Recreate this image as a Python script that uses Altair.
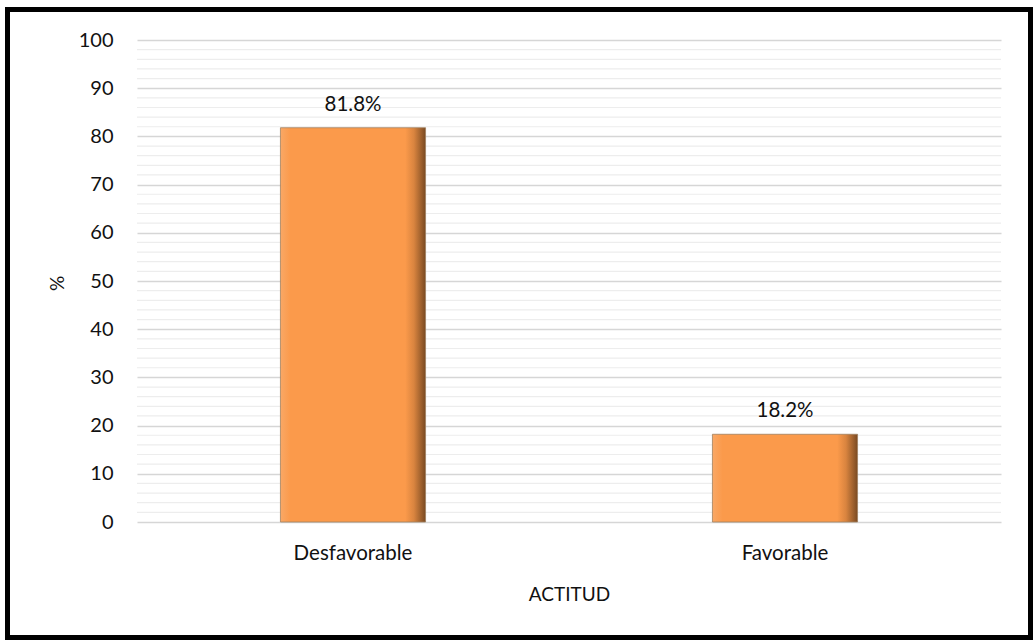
import altair as alt
import pandas as pd

categories = ["Desfavorable", "Favorable"]
values = [81.8, 18.2]
major_ticks = [0, 10, 20, 30, 40, 50, 60, 70, 80, 90, 100]
minor_ticks = [2, 4, 6, 8, 12, 14, 16, 18, 22, 24, 26, 28, 32, 34, 36, 38,
               42, 44, 46, 48, 52, 54, 56, 58, 62, 64, 66, 68, 72, 74, 76, 78,
               82, 84, 86, 88, 92, 94, 96, 98]

FONT = "Lato"
df = pd.DataFrame({"ACTITUD": categories, "pct": values})
minor_df = pd.DataFrame({"pct": minor_ticks})
frame_df = pd.DataFrame({"f": [0]})

x_enc = alt.X("ACTITUD:N", sort=categories,
              scale=alt.Scale(paddingInner=0.664, paddingOuter=0.332),
              axis=alt.Axis(title="ACTITUD", labelAngle=0, labelFontSize=20.5, labelFont=FONT,
                            labelColor="#111111", labelPadding=21, domain=False, ticks=False,
                            titleFont=FONT, titleFontSize=19, titleFontWeight="normal",
                            titleColor="#111111", titleY=72, titleBaseline="middle"))
y_scale = alt.Scale(domain=[0, 100], nice=False)
y_axis = alt.Axis(title="%", values=major_ticks, labelFontSize=20, labelFont=FONT,
                  labelColor="#111111", labelPadding=24, domain=False, ticks=False,
                  gridColor="#d6d6d6", gridWidth=1.3,
                  titleFont=FONT, titleFontSize=19, titleFontWeight="normal",
                  titleColor="#111111", titleX=-80, titleY=243,
                  titleAlign="center", titleBaseline="middle")

minor = alt.Chart(minor_df).mark_rule(color="#ededed", strokeWidth=1.2).encode(
    y=alt.Y("pct:Q", scale=y_scale, axis=y_axis)
)

bars = alt.Chart(df).mark_bar(
    color=alt.Gradient(
        gradient="linear", x1=0, x2=1, y1=0, y2=0,
        stops=[alt.GradientStop(color="#f9a866", offset=0),
               alt.GradientStop(color="#fb9a4b", offset=0.07),
               alt.GradientStop(color="#fb9a4b", offset=0.86),
               alt.GradientStop(color="#d9843f", offset=0.92),
               alt.GradientStop(color="#7a4a22", offset=1)]),
    stroke="#a08060", strokeWidth=0.8
).encode(
    x=x_enc,
    y=alt.Y("pct:Q", scale=y_scale, axis=y_axis)
)

labels = alt.Chart(df).transform_calculate(
    lab="format(datum.pct, '.1f') + '%'"
).mark_text(font=FONT, fontSize=20.5, color="#111111", baseline="alphabetic", dy=-17).encode(
    x=alt.X("ACTITUD:N", sort=categories),
    y=alt.Y("pct:Q", scale=y_scale),
    text="lab:N"
)

frame = alt.Chart(frame_df).mark_rect(filled=False, stroke="black", strokeWidth=5).encode(
    x=alt.value(-129.5), x2=alt.value(893.5), y=alt.value(-30.5), y2=alt.value(597.5)
)

chart = alt.layer(minor, bars, labels, frame).properties(
    width=864, height=482,
    autosize=alt.AutoSizeParams(type="none"),
    padding={"left": 137, "top": 40, "right": 32, "bottom": 122},
    background="white"
).configure_view(stroke=None)

chart.save("out.html", embed_options={"renderer": "svg", "actions": False})
